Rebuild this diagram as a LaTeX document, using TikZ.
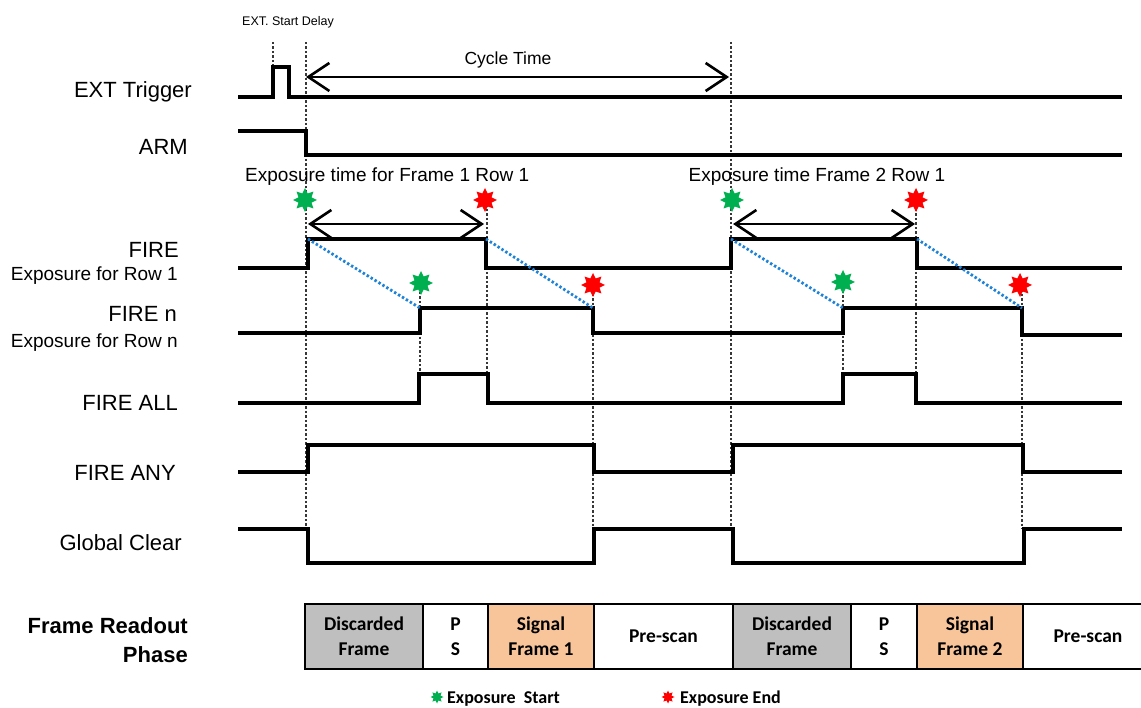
\documentclass[tikz,border=0pt]{standalone}
\usepackage{fontspec}
\setmainfont{Liberation Sans}
\newfontfamily\carlfont{Carlito}
\usetikzlibrary{arrows.meta,shapes.geometric}
\definecolor{sgreen}{RGB}{0,176,80}
\definecolor{sred}{RGB}{255,0,0}
\definecolor{sblue}{RGB}{30,130,215}
\definecolor{cgray}{RGB}{191,191,191}
\definecolor{corange}{RGB}{248,196,154}
\definecolor{dotgray}{RGB}{55,55,55}
\begin{document}
\begin{tikzpicture}[x=1pt,y=-1pt,
  wave/.style={line width=3.3pt, line join=miter, line cap=rect},
  guide/.style={dotgray, line width=2.6pt, dash pattern=on 2.5pt off 2pt},
  diag/.style={sblue, line width=2.8pt, dash pattern=on 2.4pt off 2.2pt},
  span/.style={line width=2.6pt, {Straight Barb[length=21pt,width=28pt]}-{Straight Barb[length=21pt,width=28pt]}},
  lbl/.style={font=\fontsize{22}{24}\selectfont, anchor=base east, inner sep=0pt},
  sublbl/.style={font=\fontsize{19}{21}\selectfont, anchor=base east, inner sep=0pt},
  note/.style={font=\fontsize{19}{21}\selectfont, inner sep=0pt},
  estar/.style={star, star points=8, star point ratio=1.7, minimum size=24pt, inner sep=0pt, fill=#1, draw=none},
  lstar/.style={star, star points=8, star point ratio=1.7, minimum size=13pt, inner sep=0pt, fill=#1, draw=none},
  cell/.style={draw, line width=2.6pt, minimum height=65pt, inner sep=0pt, align=center,
    font=\carlfont\bfseries\fontsize{19.5}{25}\selectfont},
  legend/.style={font=\carlfont\bfseries\fontsize{18}{20}\selectfont, anchor=base west, inner sep=0pt}
]
\useasboundingbox (0,0) rectangle (1141,708);

% ---- guide lines (drawn first) ----
\draw[guide] (273,42) -- (273,67);
\draw[guide] (306,42) -- (306,529);
\draw[guide] (487,200) -- (487,374);
\draw[guide] (420,283) -- (420,374);
\draw[guide] (593,285) -- (593,529);
\draw[guide] (731,42) -- (731,529);
\draw[guide] (843,282) -- (843,374);
\draw[guide] (916,200) -- (916,374);
\draw[guide] (1022,285) -- (1022,529);

% ---- row labels ----
\node[lbl] (lext) at (192,98) {EXT Trigger};
\node[lbl] (larm) at (188,155) {ARM};
\node[lbl] (lfire) at (179,258) {FIRE};
\node[sublbl] (lrow1) at (178,281) {Exposure for Row 1};
\node[lbl] (lfiren) at (177,322) {FIRE n};
\node[sublbl] (lrown) at (178,348) {Exposure for Row n};
\node[lbl] (lall) at (178,411) {FIRE ALL};
\node[lbl] (lany) at (176,481) {FIRE ANY};
\node[lbl] (lgc) at (182,550) {Global Clear};
\node[font=\bfseries\fontsize{22}{29}\selectfont, anchor=base east, inner sep=0pt, align=right] (lfr) at (188,662) {Frame Readout\\Phase};

% ---- waveforms ----
\draw[wave] (240,97) -- (273,97) -- (273,67) -- (289,67) -- (289,97) -- (1120,97);
\draw[wave] (240,131) -- (306,131) -- (306,155) -- (1120,155);
\draw[wave] (240,268) -- (308,268) -- (308,239) -- (486,239) -- (486,268) -- (731,268) -- (731,239) -- (917,239) -- (917,268) -- (1120,268);
\draw[wave] (240,333) -- (420,333) -- (420,308) -- (593,308) -- (593,333) -- (843,333) -- (843,308) -- (1022,308) -- (1022,335) -- (1120,335);
\draw[wave] (240,403) -- (419,403) -- (419,374) -- (488,374) -- (488,403) -- (843,403) -- (843,374) -- (916,374) -- (916,403) -- (1120,403);
\draw[wave] (240,472) -- (308,472) -- (308,445) -- (594,445) -- (594,472) -- (733,472) -- (733,445) -- (1023,445) -- (1023,472) -- (1120,472);
\draw[wave] (240,529) -- (308,529) -- (308,563) -- (594,563) -- (594,529) -- (733,529) -- (733,563) -- (1024,563) -- (1024,529) -- (1120,529);

% ---- row-delay diagonals ----
\draw[diag] (308,239) -- (420,308);
\draw[diag] (486,239) -- (593,308);
\draw[diag] (731,239) -- (843,308);
\draw[diag] (917,239) -- (1022,308);

% ---- stars ----
\node[estar=sgreen] (gs1) at (305,200) {};
\node[estar=sred]   (rs1) at (485,200) {};
\node[estar=sgreen] (gs2) at (421,283) {};
\node[estar=sred]   (rs2) at (593,285) {};
\node[estar=sgreen] (gs3) at (732,200) {};
\node[estar=sred]   (rs3) at (916,200) {};
\node[estar=sgreen] (gs4) at (843,282) {};
\node[estar=sred]   (rs4) at (1020,285) {};

% ---- spans and notes ----
\node[font=\fontsize{12.5}{14}\selectfont, anchor=west, inner sep=0pt] (esd) at (242,22) {EXT. Start Delay};
\coordinate (ct1) at (306,77);
\coordinate (ct2) at (729,77);
\draw[span] (ct1) -- (ct2);
\node[font=\fontsize{17.5}{19}\selectfont, inner sep=0pt] (ctl) at (508,60) {Cycle Time};
\node[note, anchor=west] (ex1) at (245,177) {Exposure time for Frame 1 Row 1};
\node[note] (ex2) at (817,177) {Exposure time Frame 2 Row 1};
\coordinate (e1a) at (308,224);
\coordinate (e1b) at (484,224);
\coordinate (e2a) at (733,224);
\coordinate (e2b) at (915,224);
\draw[span] (e1a) -- (e1b);
\draw[span] (e2a) -- (e2b);

% ---- frame readout phase ----
\node[cell, fill=cgray, minimum width=118pt] (c1) at (364,636.5) {Discarded\\Frame};
\node[cell, minimum width=65pt] (c2) at (455.5,636.5) {P\\S};
\node[cell, fill=corange, minimum width=106pt] (c3) at (541,636.5) {Signal\\Frame 1};
\node[cell, minimum width=139pt] (c4) at (663.5,636.5) {Pre-scan};
\node[cell, fill=cgray, minimum width=118pt] (c5) at (792,636.5) {Discarded\\Frame};
\node[cell, minimum width=66pt] (c6) at (884,636.5) {P\\S};
\node[cell, fill=corange, minimum width=106pt] (c7) at (970,636.5) {Signal\\Frame 2};
\draw[line width=2.6pt] (1141,604) -- (1023,604) -- (1023,669) -- (1141,669);
\node[font=\carlfont\bfseries\fontsize{19.5}{24}\selectfont, inner sep=0pt] (c8) at (1088,636.5) {Pre-scan};

% ---- legend ----
\node[lstar=sgreen] (lg1) at (437,697) {};
\node[legend] (lg1t) at (447,703) {Exposure\ \ Start};
\node[lstar=sred] (lg2) at (668,697) {};
\node[legend] (lg2t) at (680,703) {Exposure End};
\end{tikzpicture}
\end{document}
